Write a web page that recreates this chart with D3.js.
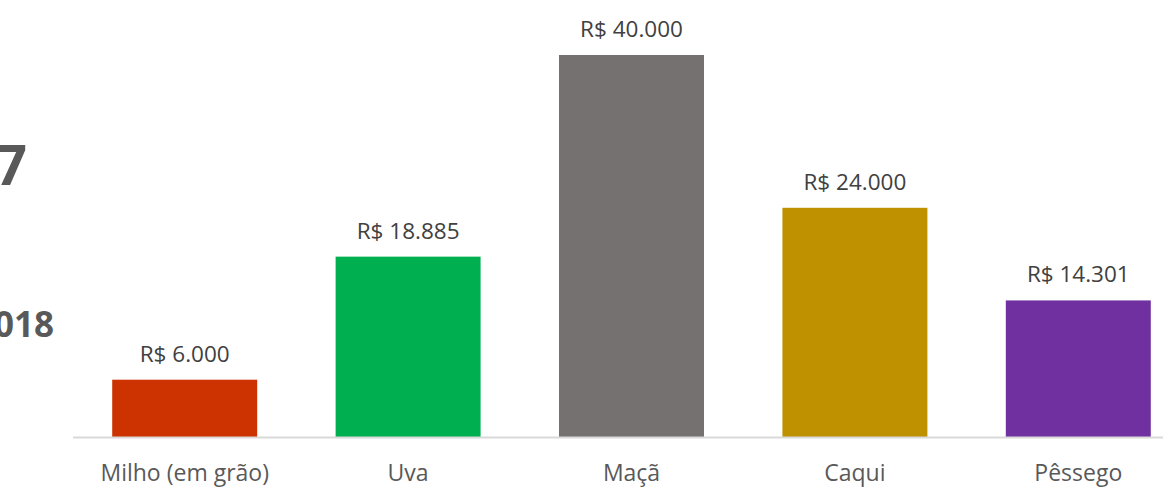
<!DOCTYPE html>
<html>
<head>
<meta charset="utf-8">
<script src="https://cdn.jsdelivr.net/npm/d3@7"></script>
<style>
  body { margin: 0; background: #fff; overflow: hidden; }
  text { font-family: 'Open Sans', sans-serif; }
</style>
</head>
<body>
<div id="chart"></div>
<script>
// data
const categories = ['Milho (em grão)', 'Uva', 'Maçã', 'Caqui', 'Pêssego']
const values = [6000, 18885, 40000, 24000, 14301]
const colors = ['#cc3300', '#00b050', '#767171', '#bf9000', '#7030a0']
const sideTitles = ['2017', '2018']

const width = 1163
const height = 487

const svg = d3
  .select('#chart')
  .append('svg')
  .attr('width', width)
  .attr('height', height)

const data = categories.map((c, i) => ({ name: c, value: values[i], color: colors[i] }))

const xPositionScale = d3
  .scaleBand()
  .domain(categories)
  .range([73, 1190])
  .paddingInner(0.351)
  .paddingOuter(0.1755)

const yPositionScale = d3
  .scaleLinear()
  .domain([0, 40000])
  .range([437, 55])

const fmt = d => 'R$ ' + d3.format(',')(d).replace(/,/g, '.')

// titles cut off by the left edge, like in the original slide
svg
  .append('text')
  .text(sideTitles[0])
  .attr('x', 27)
  .attr('y', 185)
  .attr('text-anchor', 'end')
  .attr('font-size', 56)
  .attr('font-weight', 'bold')
  .attr('fill', '#595959')

svg
  .append('text')
  .text(sideTitles[1])
  .attr('x', 54)
  .attr('y', 337)
  .attr('text-anchor', 'end')
  .attr('font-size', 35)
  .attr('font-weight', 'bold')
  .attr('fill', '#595959')

svg
  .selectAll('.bar')
  .data(data)
  .enter()
  .append('rect')
  .attr('class', 'bar')
  .attr('x', d => xPositionScale(d.name))
  .attr('width', xPositionScale.bandwidth())
  .attr('y', d => yPositionScale(d.value))
  .attr('height', d => yPositionScale(0) - yPositionScale(d.value))
  .attr('fill', d => d.color)

svg
  .selectAll('.value-label')
  .data(data)
  .enter()
  .append('text')
  .attr('class', 'value-label')
  .text(d => fmt(d.value))
  .attr('x', d => xPositionScale(d.name) + xPositionScale.bandwidth() / 2)
  .attr('y', d => yPositionScale(d.value) - 18)
  .attr('text-anchor', 'middle')
  .attr('font-size', 22.5)
  .attr('fill', '#404040')

// x axis
const xAxis = d3.axisBottom(xPositionScale).tickSize(0).tickPadding(0)

svg
  .append('g')
  .attr('class', 'x-axis')
  .attr('transform', 'translate(0,' + yPositionScale(0) + ')')
  .call(xAxis)
  .call(g => g.select('.domain').attr('stroke', '#d9d9d9').attr('stroke-width', 2).attr('d', 'M73,0.5H1190'))
  .call(g =>
    g
      .selectAll('.tick text')
      .attr('dy', 0)
      .attr('y', 44)
      .attr('font-size', 23)
      .attr('font-family', "'Open Sans', sans-serif")
      .attr('fill', '#595959')
  )
</script>
</body>
</html>
